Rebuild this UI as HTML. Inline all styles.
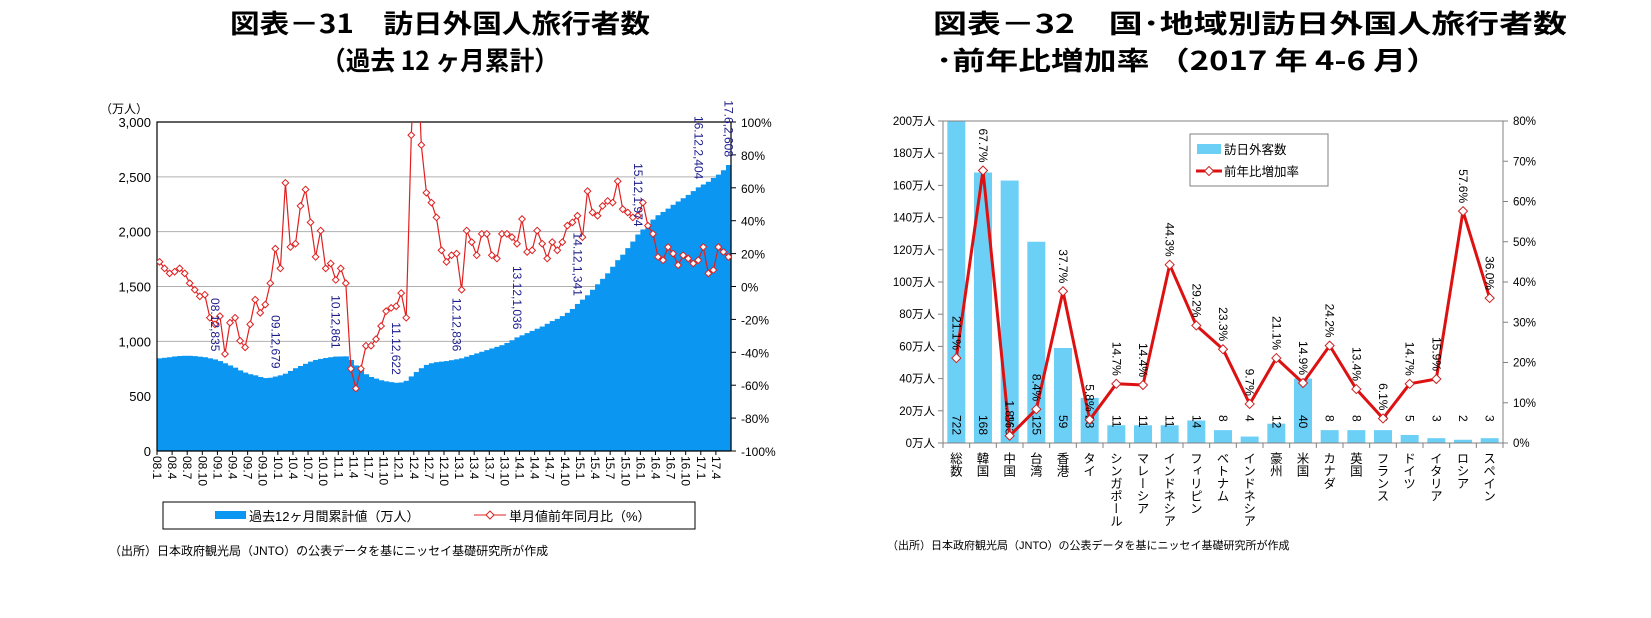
<!DOCTYPE html>
<html><head><meta charset="utf-8">
<style>
html,body{margin:0;padding:0;background:#fff;}
svg{display:block;font-family:"Liberation Sans","Noto Sans CJK JP",sans-serif;}
</style></head>
<body>
<svg id="root" width="1651" height="618" viewBox="0 0 1651 618" xmlns="http://www.w3.org/2000/svg">
<defs>
<clipPath id="clipL"><rect x="157" y="122" width="574" height="329"/></clipPath>
</defs>
<g font-weight="bold" font-size="26" text-anchor="middle" font-family="'Noto Sans CJK JP',sans-serif">
<text x="440" y="33" textLength="420" lengthAdjust="spacingAndGlyphs">図表－31　訪日外国人旅行者数</text>
<text x="440" y="70" textLength="238" lengthAdjust="spacingAndGlyphs">（過去 12 ヶ月累計）</text>
</g>
<g font-weight="bold" font-size="26" text-anchor="start" font-family="'Noto Sans CJK JP',sans-serif">
<text x="933" y="33" textLength="634" lengthAdjust="spacingAndGlyphs">図表－32　国･地域別訪日外国人旅行者数</text>
<text x="936" y="70" textLength="503" lengthAdjust="spacingAndGlyphs">･前年比増加率 （2017 年 4-6 月）</text>
</g>
<g id="left"></g>
<g id="right"></g>
<text x="109" y="555" font-size="12">（出所）日本政府観光局（JNTO）の公表データを基にニッセイ基礎研究所が作成</text>
<text x="887" y="549" font-size="11">（出所）日本政府観光局（JNTO）の公表データを基にニッセイ基礎研究所が作成</text>
</svg>
<script>
// ---------- Left chart data ----------
const cumValues = [
845,850,855,862,866,868,868,865,860,855,845,835,
820,800,780,760,735,715,700,690,675,665,668,679,
690,705,730,755,775,795,815,830,840,848,855,861,
862,863,830,780,740,700,675,660,645,635,628,622,
625,640,680,720,755,785,800,810,815,820,828,836,
845,860,875,890,905,920,935,950,965,985,1010,1036,
1055,1075,1095,1115,1135,1160,1185,1205,1230,1260,1295,1341,
1380,1420,1470,1520,1570,1620,1680,1740,1790,1850,1910,1974,
2020,2060,2110,2150,2180,2210,2245,2275,2305,2335,2370,2404,
2430,2455,2490,2520,2560,2608];
const yoyValues = [
15,11,8,9,11,8,2,-2,-6,-5,-19,-23,
-18,-41,-22,-19,-33,-37,-23,-8,-16,-11,2,23,
11,63,24,26,49,59,39,18,34,11,14,4,
11,2,-50,-62,-50,-36,-36,-32,-24,-15,-13,-12,
-4,-19,92,160,86,57,51,42,22,15,19,20,
-2,34,27,19,32,32,19,17,32,32,30,26,
41,21,22,34,26,17,27,22,27,37,39,43,
30,58,45,43,49,52,51,64,47,45,42,43,
51,37,32,18,16,24,20,13,19,17,14,16,
24,8,10,24,21,18];
const monthLabels = ["08.1","08.4","08.7","08.10","09.1","09.4","09.7","09.10","10.1","10.4","10.7","10.10","11.1","11.4","11.7","11.10","12.1","12.4","12.7","12.10","13.1","13.4","13.7","13.10","14.1","14.4","14.7","14.10","15.1","15.4","15.7","15.10","16.1","16.4","16.7","16.10","17.1","17.4"];
const leftTicks = [0,500,1000,1500,2000,2500,3000];
const leftTickLabels = ["0","500","1,000","1,500","2,000","2,500","3,000"];
const pctTicks = [-100,-80,-60,-40,-20,0,20,40,60,80,100];
const annoIndex = [11,23,35,47,59,71,83,95,107,113];
const annoText = ["08.12,835","09.12,679","10.12,861","11.12,622","12.12,836","13.12,1,036","14.12,1,341","15.12,1,974","16.12,2,404","17.6,2,608"];

// ---------- Right chart data ----------
const countries = ["総数","韓国","中国","台湾","香港","タイ","シンガポール","マレーシア","インドネシア","フィリピン","ベトナム","インドネシア","豪州","米国","カナダ","英国","フランス","ドイツ","イタリア","ロシア","スペイン"];
const visitors = [722,168,163,125,59,28,11,11,11,14,8,4,12,40,8,8,8,5,3,2,3];
const growth = [21.1,67.7,1.8,8.4,37.7,5.8,14.7,14.4,44.3,29.2,23.3,9.7,21.1,14.9,24.2,13.4,6.1,14.7,15.9,57.6,36.0];
const rTicks = [0,20,40,60,80,100,120,140,160,180,200];
const rPctTicks = [0,10,20,30,40,50,60,70,80];

const NS="http://www.w3.org/2000/svg";
function mk(parent,tag,attrs,txt){const e=document.createElementNS(NS,tag);for(const k in attrs)e.setAttribute(k,attrs[k]);if(txt!==undefined)e.textContent=txt;parent.appendChild(e);return e;}

// ---------- Left chart ----------
(function(){
const g=document.getElementById('left');
const X0=157,X1=731,Y0=451,Y1=122,N=114,W=(X1-X0)/N;
const yL=v=>Y0-(v/3000)*(Y0-Y1);
const yR=p=>(Y0+Y1)/2-(p/100)*(Y0-Y1)/2;
const xm=i=>X0+(i+0.5)*W;
// gridlines
leftTicks.forEach((t,k)=>{
  if(t>0&&t<3000){const l=mk(g,'line',{x1:X0,x2:X1,y1:yL(t),y2:yL(t),stroke:'#b0b0b0','stroke-width':1});
  
  }
  const tx=mk(g,'text',{x:X0-6,y:yL(t)+5,'font-size':13,'text-anchor':'end'},leftTickLabels[k]);
  
  
});
const unit=mk(g,'text',{x:100,y:113,'font-size':12},'（万人）');


// area (stepped)
cumValues.forEach((v,i)=>{
  const r=mk(g,'rect',{x:X0+i*W,y:yL(v),width:W+0.6,height:Y0-yL(v),fill:'#0b96f2'});
  
  
});
// frame
const fr=mk(g,'path',{d:`M${X0} ${Y0}V${Y1}H${X1}V${Y0}`,fill:'none',stroke:'#000','stroke-width':1.2});


const xa=mk(g,'line',{x1:X0,x2:X1,y1:Y0,y2:Y0,stroke:'#000','stroke-width':1.2});


// right pct ticks
pctTicks.forEach(p=>{
  mk(g,'line',{x1:X1,x2:X1+5,y1:yR(p),y2:yR(p),stroke:'#000'});
  const tx=mk(g,'text',{x:X1+10,y:yR(p)+5,'font-size':12},p+'%');
  
  
});
// x ticks & labels
for(let i=0;i<N;i+=3){
  mk(g,'line',{x1:X0+i*W,x2:X0+i*W,y1:Y0,y2:Y0+4,stroke:'#000'});
}
monthLabels.forEach((lab,k)=>{
  const x=X0+k*3*W-4;
  const tx=mk(g,'text',{x:0,y:0,'font-size':12,transform:`translate(${x},456) rotate(90)`},lab);
  
  
});
// line
const lg=mk(g,'g',{'clip-path':'url(#clipL)'});
const pts=yoyValues.map((p,i)=>`${xm(i).toFixed(1)},${yR(p).toFixed(1)}`).join(' ');
const pl=mk(lg,'polyline',{points:pts,fill:'none',stroke:'#e02020','stroke-width':1.2});


yoyValues.forEach((p,i)=>{
  const x=xm(i),y=yR(p),s=3.3;
  const d=mk(lg,'path',{d:`M${x} ${y-s}L${x+s} ${y}L${x} ${y+s}L${x-s} ${y}Z`,fill:'#fff',stroke:'#e02020','stroke-width':1});
  
  
});
// annotations
annoIndex.forEach((idx,k)=>{
  const x=xm(idx)-4,y=yL(cumValues[idx])-8;
  const tx=mk(g,'text',{x:0,y:0,'font-size':12,fill:'#1a1a8c','text-anchor':'end',transform:`translate(${x},${y}) rotate(90)`},annoText[k]);
  
  
});
// legend
const lb=mk(g,'rect',{x:163,y:502,width:532,height:27,fill:'#fff',stroke:'#000','stroke-width':1});


mk(g,'rect',{x:215,y:511,width:31,height:8,fill:'#0b96f2'});
const l1=mk(g,'text',{x:249,y:521,'font-size':13},'過去12ヶ月間累計値（万人）');


mk(g,'line',{x1:474,x2:506,y1:515,y2:515,stroke:'#e02020','stroke-width':1});
mk(g,'path',{d:'M490 511L494 515L490 519L486 515Z',fill:'#fff',stroke:'#e02020'});
const l2=mk(g,'text',{x:509,y:521,'font-size':13},'単月値前年同月比（%）');


})();

// ---------- Right chart ----------
(function(){
const g=document.getElementById('right');
const X0=943,X1=1503,Y0=443,Y1=121,N=countries.length,W=(X1-X0)/N;
const yL=v=>Y0-(Math.min(v,200)/200)*(Y0-Y1);
const yR=p=>Y0-(p/80)*(Y0-Y1);
const xc=i=>X0+(i+0.5)*W;
rTicks.forEach(t=>{
  mk(g,'line',{x1:X0-5,x2:X0,y1:yL(t),y2:yL(t),stroke:'#808080'});
  const tx=mk(g,'text',{x:X0-8,y:yL(t)+4,'font-size':11.5,'text-anchor':'end'},t+'万人');
  
  
});
rPctTicks.forEach(p=>{
  mk(g,'line',{x1:X1,x2:X1+5,y1:yR(p),y2:yR(p),stroke:'#808080'});
  const tx=mk(g,'text',{x:X1+10,y:yR(p)+4,'font-size':11.5},p+'%');
  
  
});
visitors.forEach((v,i)=>{
  const r=mk(g,'rect',{x:xc(i)-9,y:yL(v),width:18,height:Y0-yL(v),fill:'#6ccff6'});
  
  
});
const fr=mk(g,'path',{d:`M${X0} ${Y0}V${Y1}H${X1}V${Y0}Z`,fill:'none',stroke:'#808080','stroke-width':1});


for(let i=0;i<=N;i++) mk(g,'line',{x1:X0+i*W,x2:X0+i*W,y1:Y0,y2:Y0+5,stroke:'#808080'});
visitors.forEach((v,i)=>{
  const tx=mk(g,'text',{x:0,y:0,'font-size':12,transform:`translate(${xc(i)-4},415) rotate(90)`},String(v));
  
  
});
const pts=growth.map((p,i)=>`${xc(i).toFixed(1)},${yR(p).toFixed(1)}`).join(' ');
const pl=mk(g,'polyline',{points:pts,fill:'none',stroke:'#dd1111','stroke-width':3,'stroke-linejoin':'round'});


growth.forEach((p,i)=>{
  const x=xc(i),y=yR(p),s=4.5;
  const d=mk(g,'path',{d:`M${x} ${y-s}L${x+s} ${y}L${x} ${y+s}L${x-s} ${y}Z`,fill:'#fff',stroke:'#cc2222','stroke-width':1});
  
  
  const tx=mk(g,'text',{x:0,y:0,'font-size':12,'text-anchor':'end',transform:`translate(${x-4},${y-8}) rotate(90)`},p.toFixed(1)+'%');
  
  
});
countries.forEach((c,i)=>{
  const tx=mk(g,'text',{x:xc(i),y:0,'font-size':12.5,'writing-mode':'tb','font-family':"'Noto Sans CJK JP',sans-serif"},c);
  tx.setAttribute('y',452);
  
  
});
const lb=mk(g,'rect',{x:1190,y:134,width:138,height:52,fill:'#fff',stroke:'#808080','stroke-width':1});


mk(g,'rect',{x:1197,y:144,width:24,height:10,fill:'#6ccff6'});
const a=mk(g,'text',{x:1224,y:154,'font-size':12.5},'訪日外客数');


mk(g,'line',{x1:1196,x2:1222,y1:171,y2:171,stroke:'#dd1111','stroke-width':3});
mk(g,'path',{d:'M1209 166.5L1213.5 171L1209 175.5L1204.5 171Z',fill:'#fff',stroke:'#cc2222'});
const b=mk(g,'text',{x:1224,y:176,'font-size':12.5},'前年比増加率');


})();
</script>
</body></html>
